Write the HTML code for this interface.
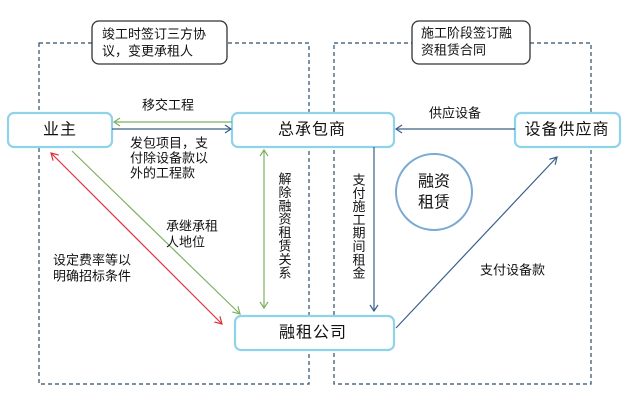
<!DOCTYPE html>
<html><head><meta charset="utf-8"><style>
html,body{margin:0;padding:0;background:#fff;}
svg{display:block;}
text{font-family:"Liberation Sans","Noto Sans CJK SC",sans-serif;fill:#111;}
.s{font-size:13px;}
.b{font-size:16px;letter-spacing:1px;}
</style></head><body>
<svg width="637" height="412" viewBox="0 0 637 412" xmlns="http://www.w3.org/2000/svg">
<rect width="637" height="412" fill="#fff"/>
<!-- dashed regions -->
<rect x="39" y="43" width="270" height="341" fill="none" stroke="#2d4d6b" stroke-width="1.2" stroke-dasharray="4 3"/>
<rect x="334" y="43" width="257" height="341" fill="none" stroke="#2d4d6b" stroke-width="1.2" stroke-dasharray="4 3"/>
<!-- callouts -->
<rect x="92" y="21" width="135" height="43" rx="7" fill="#fff" stroke="#333" stroke-width="1.3"/>
<text class="s" x="102" y="34" dominant-baseline="central">竣工时签订三方协</text>
<text class="s" x="102" y="51" dominant-baseline="central">议，变更承租人</text>
<rect x="412" y="21" width="118" height="43" rx="7" fill="#fff" stroke="#333" stroke-width="1.3"/>
<text class="s" x="421" y="33" dominant-baseline="central">施工阶段签订融</text>
<text class="s" x="421" y="50" dominant-baseline="central">资租赁合同</text>
<!-- boxes -->
<g fill="#fff" stroke="#8fd3ea" stroke-width="2.2">
<rect x="8" y="113" width="104" height="34" rx="6"/>
<rect x="232" y="113" width="162" height="34" rx="6"/>
<rect x="515" y="113" width="105" height="34" rx="6"/>
<rect x="235" y="316" width="159" height="34" rx="6"/>
</g>
<text class="b" x="60" y="130" text-anchor="middle" dominant-baseline="central">业主</text>
<text class="b" x="312" y="130" text-anchor="middle" dominant-baseline="central">总承包商</text>
<text class="b" x="567" y="130" text-anchor="middle" dominant-baseline="central">设备供应商</text>
<text class="b" x="313" y="333" text-anchor="middle" dominant-baseline="central">融租公司</text>
<!-- circle -->
<circle cx="434" cy="192" r="38" fill="#fff" stroke="#7aa9d6" stroke-width="2"/>
<text x="434" y="182" font-size="16" text-anchor="middle" dominant-baseline="central">融资</text>
<text x="434" y="203" font-size="16" text-anchor="middle" dominant-baseline="central">租赁</text>
<!-- connectors -->
<g fill="none" stroke-width="1.2">
<!-- 移交工程 green -->
<line x1="232" y1="122" x2="114" y2="122" stroke="#7fb060"/>
<polyline points="120,118 114,122 120,126" stroke="#7fb060"/>
<!-- 发包 blue -->
<line x1="112" y1="129" x2="231" y2="129" stroke="#3a5f8a"/>
<polyline points="225,125 231,129 225,133" stroke="#3a5f8a"/>
<!-- 供应设备 -->
<line x1="515" y1="129" x2="396" y2="129" stroke="#3a5f8a"/>
<polyline points="402,125 396,129 402,133" stroke="#3a5f8a"/>
<!-- red double -->
<line x1="51" y1="153" x2="222" y2="324" stroke="#e0303a"/>
<polyline points="53.1,160.7 51,153 58.7,155.1" stroke="#e0303a"/>
<polyline points="219.9,316.3 222,324 214.3,321.9" stroke="#e0303a"/>
<!-- green diag -->
<line x1="72" y1="151" x2="240" y2="314" stroke="#7fb060"/>
<polyline points="237.9,306.3 240,314 232.3,311.9" stroke="#7fb060"/>
<!-- green vertical double -->
<line x1="264" y1="150" x2="264" y2="308" stroke="#7fb060"/>
<polyline points="260,156 264,150 268,156" stroke="#7fb060"/>
<polyline points="260,302 264,308 268,302" stroke="#7fb060"/>
<!-- blue vertical -->
<line x1="374" y1="147" x2="374" y2="311" stroke="#3a5f8a"/>
<polyline points="370,305 374,311 378,305" stroke="#3a5f8a"/>
<!-- 支付设备款 -->
<line x1="396" y1="328" x2="557" y2="157" stroke="#3a5f8a"/>
<polyline points="549.3,159.3 557,157 555.2,164.8" stroke="#3a5f8a"/>
</g>
<!-- labels -->
<text class="s" x="142" y="105" dominant-baseline="central">移交工程</text>
<text class="s" x="130" y="143" dominant-baseline="central">发包项目，支</text>
<text class="s" x="130" y="158" dominant-baseline="central">付除设备款以</text>
<text class="s" x="130" y="173" dominant-baseline="central">外的工程款</text>
<text class="s" x="429" y="113" dominant-baseline="central">供应设备</text>
<text class="s" x="166" y="226" dominant-baseline="central">承继承租</text>
<text class="s" x="166" y="242" dominant-baseline="central">人地位</text>
<text class="s" x="53" y="260" dominant-baseline="central">设定费率等以</text>
<text class="s" x="53" y="276" dominant-baseline="central">明确招标条件</text>
<text class="s" x="480" y="270" dominant-baseline="central">支付设备款</text>
<!-- vertical labels -->
<g class="s" text-anchor="middle" dominant-baseline="central">
<text class="s" x="285" y="179" text-anchor="middle" dominant-baseline="central">解</text>
<text class="s" x="285" y="192.4" text-anchor="middle" dominant-baseline="central">除</text>
<text class="s" x="285" y="205.8" text-anchor="middle" dominant-baseline="central">融</text>
<text class="s" x="285" y="219.2" text-anchor="middle" dominant-baseline="central">资</text>
<text class="s" x="285" y="232.6" text-anchor="middle" dominant-baseline="central">租</text>
<text class="s" x="285" y="246" text-anchor="middle" dominant-baseline="central">赁</text>
<text class="s" x="285" y="259.4" text-anchor="middle" dominant-baseline="central">关</text>
<text class="s" x="285" y="272.8" text-anchor="middle" dominant-baseline="central">系</text>
<text class="s" x="359" y="180" text-anchor="middle" dominant-baseline="central">支</text>
<text class="s" x="359" y="193.3" text-anchor="middle" dominant-baseline="central">付</text>
<text class="s" x="359" y="206.6" text-anchor="middle" dominant-baseline="central">施</text>
<text class="s" x="359" y="219.9" text-anchor="middle" dominant-baseline="central">工</text>
<text class="s" x="359" y="233.2" text-anchor="middle" dominant-baseline="central">期</text>
<text class="s" x="359" y="246.5" text-anchor="middle" dominant-baseline="central">间</text>
<text class="s" x="359" y="259.8" text-anchor="middle" dominant-baseline="central">租</text>
<text class="s" x="359" y="273" text-anchor="middle" dominant-baseline="central">金</text>
</g>
</svg>
</body></html>
